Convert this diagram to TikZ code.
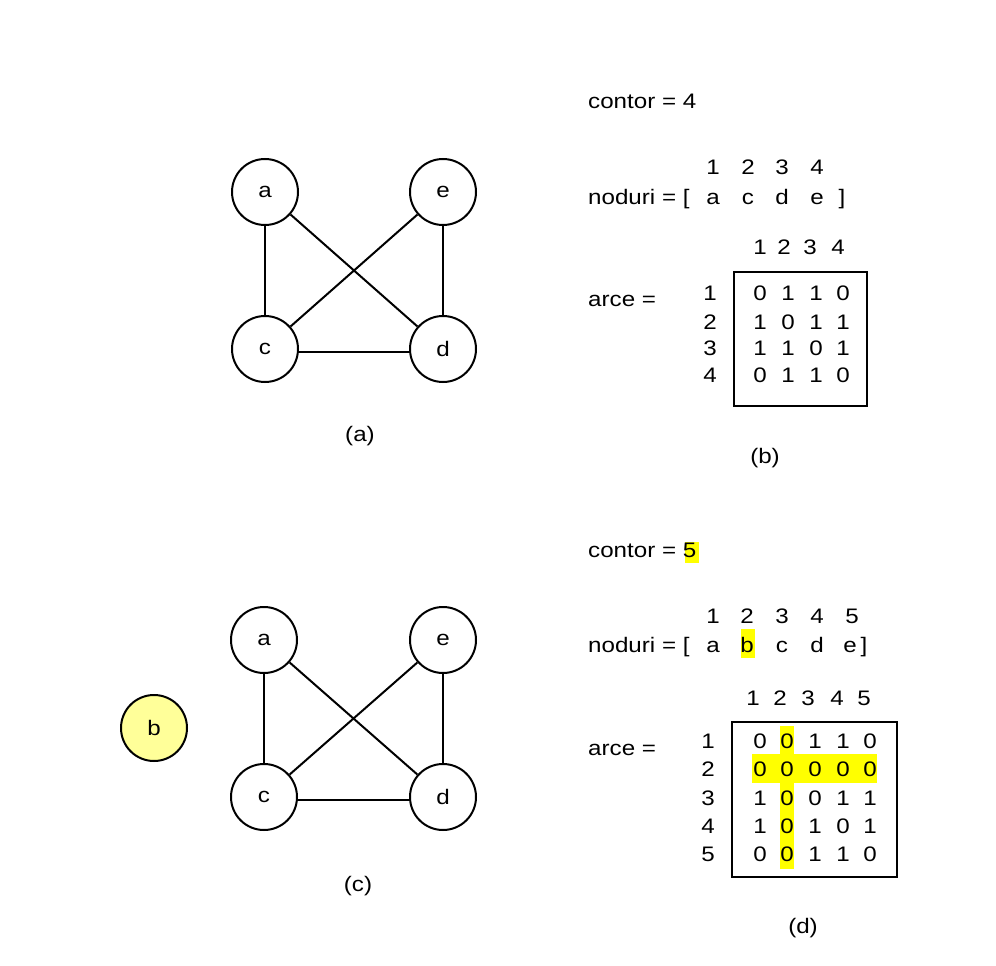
\documentclass[tikz,border=0pt]{standalone}
\usepackage{fontspec}
\setmainfont{Liberation Sans}[FakeStretch=1.15]
\definecolor{hl}{HTML}{FFFF00}
\definecolor{bfill}{HTML}{FFFF99}
\begin{document}
\begin{tikzpicture}[x=1pt,y=-1pt,
  every node/.style={font=\fontsize{21}{25}\selectfont},
  vtx/.style={circle,draw,line width=2pt,minimum size=66pt,inner sep=0pt},
  edge/.style={line width=2pt},
  txt/.style={anchor=base west,inner sep=0pt},
  ch/.style={anchor=base,inner sep=0pt},
  box/.style={draw,line width=2pt},
  hlbox/.style={fill=hl,draw=none}]
\useasboundingbox (0,0) rectangle (996,966);

% ---------- graph (a)
\node[vtx] (a1) at (265,192) {a};
\node[vtx] (e1) at (443,192) {e};
\node[vtx] (c1) at (265,349) {c};
\node[vtx] (d1) at (443,349) {d};
\draw[edge] (a1) -- (c1);
\draw[edge] (a1) -- (d1);
\draw[edge] (e1) -- (c1);
\draw[edge] (e1) -- (d1);
\draw[edge] ([yshift=-3pt]c1.east) -- ([yshift=-3pt]d1.west);
\node[ch] (la) at (360,441) {(a)};

% ---------- (b)
\node[txt] (contor1) at (588,108) {contor = 4};
\foreach \i/\x in {1/713,2/748,3/782,4/817}{
  \node[ch] (ti\i) at (\x,174) {\i};
}
\node[txt] (nod1) at (588,204) {noduri = [};
\foreach \n/\l/\x in {1/a/713,2/c/748,3/d/782,4/e/817}{
  \node[ch] (nl\n) at (\x,204) {\l};
}
\node[ch] (rb1) at (842,204) {]};
\foreach \i/\x in {1/760,2/784,3/810,4/838}{
  \node[ch] (ch\i) at (\x,254) {\i};
}
\node[txt] (arce1) at (588,306) {arce =};
\node[box,minimum width=133pt,minimum height=134pt,inner sep=0pt] (m1) at (800.5,339) {};
\foreach \r/\y in {1/300,2/329,3/355,4/382}{
  \node[ch] (rl\r) at (710,\y) {\r};
}
\foreach \r/\y/\row in {1/300/{0,1,1,0},2/329/{1,0,1,1},3/355/{1,1,0,1},4/382/{0,1,1,0}}{
  \foreach \v [count=\c] in \row {
    \pgfmathsetmacro{\xx}{{760,788,816,843}[\c-1]}
    \node[ch] (e\r\c) at (\xx,\y) {\v};
  }
}
\node[ch] (lb) at (765,463) {(b)};

% ---------- graph (c)
\node[vtx] (a2) at (264,640) {a};
\node[vtx] (e2) at (443,640) {e};
\node[vtx] (c2) at (264,797) {c};
\node[vtx] (d2) at (443,797) {d};
\node[vtx,fill=bfill] (b2) at (154,728) {b};
\draw[edge] (a2) -- (c2);
\draw[edge] (a2) -- (d2);
\draw[edge] (e2) -- (c2);
\draw[edge] (e2) -- (d2);
\draw[edge] ([yshift=-3pt]c2.east) -- ([yshift=-3pt]d2.west);
\node[ch] (lc) at (358,891) {(c)};

% ---------- (d)
\fill[hl] (685,542) rectangle (699,563);
\node[txt] (contor2) at (588,557) {contor = 5};
\foreach \i/\x in {1/713,2/747,3/782,4/817,5/852}{
  \node[ch] (tj\i) at (\x,623) {\i};
}
\fill[hl] (741,629) rectangle (755,658);
\node[txt] (nod2) at (588,652) {noduri = [};
\foreach \n/\l/\x in {1/a/713,2/b/747,3/c/782,4/d/817,5/e/850}{
  \node[ch] (nm\n) at (\x,652) {\l};
}
\node[ch] (rb2) at (864,652) {]};
\foreach \i/\x in {1/753,2/780,3/808,4/837,5/864}{
  \node[ch] (cj\i) at (\x,705) {\i};
}
\node[txt] (arce2) at (588,755) {arce =};
\fill[hl] (780,726) rectangle (794,869);
\fill[hl] (752,754) rectangle (877,783);
\node[box,minimum width=165pt,minimum height=155pt,inner sep=0pt] (m2) at (814.5,799.5) {};
\foreach \r/\y in {1/748,2/776,3/805,4/833,5/861}{
  \node[ch] (rm\r) at (708,\y) {\r};
}
\foreach \r/\y/\row in {1/748/{0,0,1,1,0},2/776/{0,0,0,0,0},3/805/{1,0,0,1,1},4/833/{1,0,1,0,1},5/861/{0,0,1,1,0}}{
  \foreach \v [count=\c] in \row {
    \pgfmathsetmacro{\xx}{{760,787,815,843,870}[\c-1]}
    \node[ch] (f\r\c) at (\xx,\y) {\v};
  }
}
\node[ch] (ld) at (803,933) {(d)};
\end{tikzpicture}
\end{document}
